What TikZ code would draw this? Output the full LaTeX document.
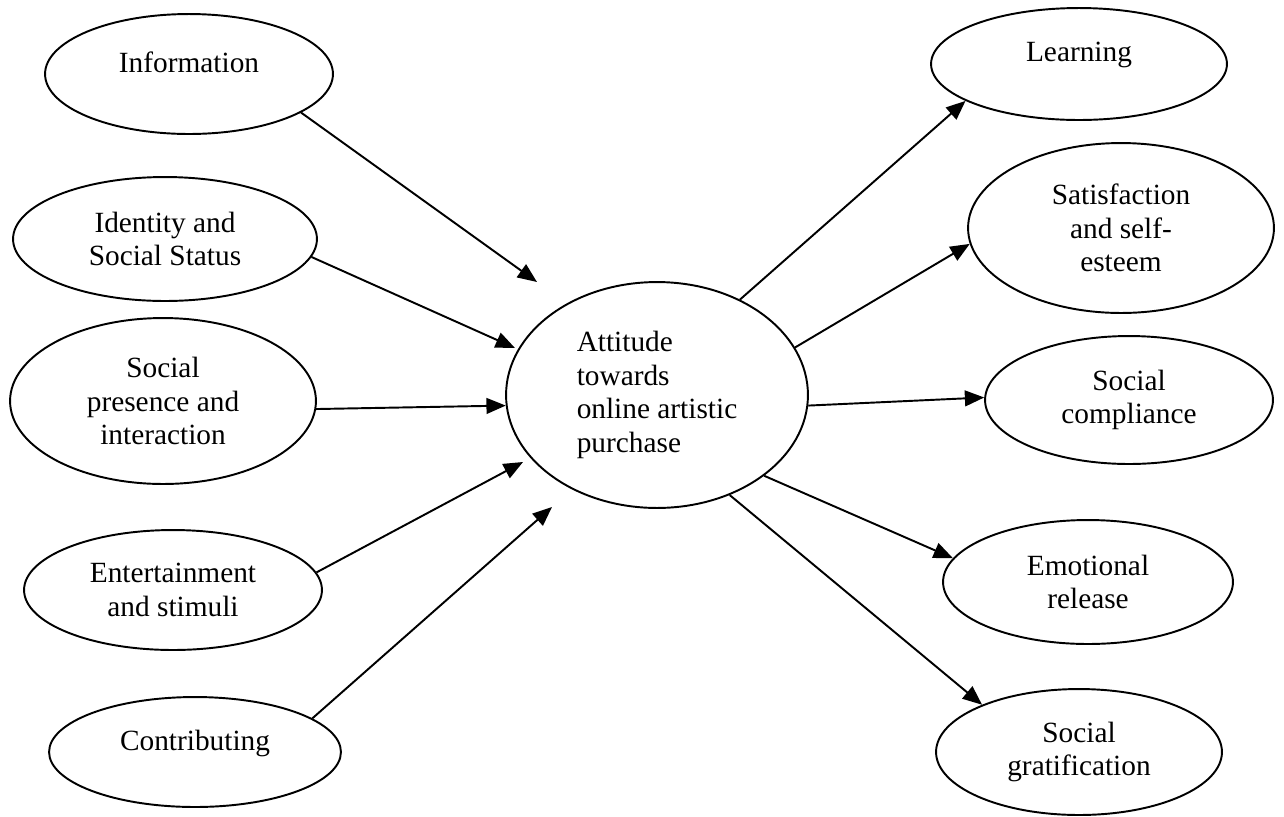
\documentclass[tikz,border=0pt]{standalone}
\usepackage{fontspec}
\setmainfont{Liberation Serif}
\usetikzlibrary{shapes.geometric,arrows.meta}

\tikzset{
  bubble/.style 2 args={draw, ellipse, line width=1.1pt, inner sep=0pt,
    minimum width=#1*0.04cm, minimum height=#2*0.04cm, align=center,
    font=\fontsize{16.7}{19}\selectfont},
  lift/.style={text depth=0.48cm},
  flow/.style={line width=1.1pt, -{Triangle[length=11pt,width=9pt]}}
}

\begin{document}
\begin{tikzpicture}[x=0.02cm, y=-0.02cm]
  \useasboundingbox (0,0) rectangle (1284,816);
  % centre
  \node[bubble={151}{113}, align=left] (att) at (657,395) {Attitude\\towards\\online artistic\\purchase};
  % left side
  \node[bubble={144}{60}, lift] (info) at (189,74) {Information};
  \node[bubble={152}{62}] (ident) at (165,239) {Identity and\\Social Status};
  \node[bubble={153}{83}] (soc) at (163,401) {Social\\presence and\\interaction};
  \node[bubble={149}{60}] (ent) at (173,590) {Entertainment\\and stimuli};
  \node[bubble={146}{55}, lift] (contr) at (195,752) {Contributing};
  % right side
  \node[bubble={148}{56}, lift] (learn) at (1079,64) {Learning};
  \node[bubble={153}{85}] (satis) at (1121,228) {Satisfaction\\and self-\\esteem};
  \node[bubble={144}{64}] (comp) at (1129,400) {Social\\compliance};
  \node[bubble={145}{62}] (emo) at (1088,582) {Emotional\\release};
  \node[bubble={143}{63}] (grat) at (1079,752) {Social\\gratification};
  % free arrow tips in front of the centre
  \coordinate (tinfo) at (537,282);
  \coordinate (tident) at (515,348);
  \coordinate (tent) at (523,462);
  \coordinate (tcontr) at (552,507);
  \foreach \src/\ang/\dst in {info/-19/tinfo, ident/-7/tident, soc/-3/att.184, ent/7/tent, contr/16/tcontr}
    \draw[flow] (\src.\ang) -- (\dst);
  \foreach \ang/\dst/\tipang in {49/learn/198, 19/satis/186, -4/comp/179, -37/emo/170, -54/grat/154}
    \draw[flow] (att.\ang) -- (\dst.\tipang);
\end{tikzpicture}
\end{document}
